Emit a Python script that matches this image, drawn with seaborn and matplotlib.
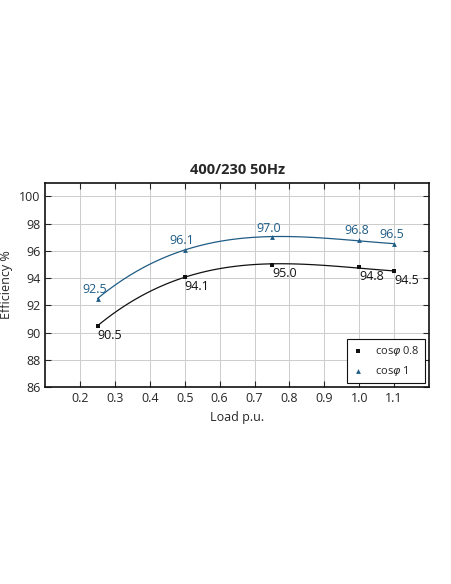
import numpy as np
import pandas as pd
import matplotlib
matplotlib.use("Agg")
import matplotlib.pyplot as plt
import seaborn as sns

# Data ........................................................................

load = [0.25, 0.5, 0.75, 1.0, 1.1]
eff_cos08 = [90.5, 94.1, 95.0, 94.8, 94.5]
eff_cos1 = [92.5, 96.1, 97.0, 96.8, 96.5]
x_ticks = [0.2, 0.3, 0.4, 0.5, 0.6, 0.7, 0.8, 0.9, 1.0, 1.1]
y_ticks = [86, 88, 90, 92, 94, 96, 98, 100]

black = "#111111"
blue = "#1f5c85"

# Plot ........................................................................

sns.set_style("ticks")
plt.rcParams["font.family"] = ["Open Sans", "DejaVu Sans"]

fig = plt.figure(figsize = (4.52, 5.84), dpi = 100)
ax = fig.add_axes([0.1, 0.337, 0.849, 0.35])

# Smooth curves through the points
sns.regplot(x = load, y = eff_cos08, order = 3, ci = None, scatter = False, truncate = True,
            line_kws = dict(color = black, lw = 0.9), ax = ax)
sns.regplot(x = load, y = eff_cos1, order = 3, ci = None, scatter = False, truncate = True,
            line_kws = dict(color = blue, lw = 0.9), ax = ax)

# Markers
sns.scatterplot(x = load, y = eff_cos08, marker = "s", color = black, s = 10, edgecolor = black,
                linewidth = 0, label = "cos$\\varphi$ 0.8", ax = ax, zorder = 5)
sns.scatterplot(x = load, y = eff_cos1, marker = "^", color = blue, s = 12, edgecolor = blue,
                linewidth = 0, label = "cos$\\varphi$ 1", ax = ax, zorder = 5)

# Value labels
for x, y in zip(load, eff_cos08):
    ax.annotate(f"{y:.1f}", (x, y), xytext = (0, -2), textcoords = "offset points",
                ha = "left", va = "top", fontsize = 9, color = black)
for x, y in zip(load, eff_cos1):
    ax.annotate(f"{y:.1f}", (x, y), xytext = (-2, 2), textcoords = "offset points",
                ha = "center", va = "bottom", fontsize = 9, color = blue)

ax.set_xlim(0.1, 1.2)
ax.set_ylim(86, 101)
ax.set_xticks(x_ticks)
ax.set_xticklabels([f"{t:.1f}" for t in x_ticks])
ax.set_yticks(y_ticks)
ax.grid(True, color = "#cccccc", lw = 0.7)
ax.tick_params(direction = "in", top = True, right = True, labelsize = 9, length = 4, width = 0.8)
for sp in ax.spines.values():
    sp.set_linewidth(1.2)
    sp.set_color(black)

ax.set_xlabel("Load p.u.", fontsize = 9)
ax.set_ylabel("Efficiency %", fontsize = 9)
ax.set_title("400/230 50Hz", fontsize = 10.5, fontweight = "bold")

leg = ax.legend(loc = "lower right", fontsize = 8, fancybox = False, framealpha = 1,
                edgecolor = black, handlelength = 1.2, handletextpad = 0.9, borderpad = 0.45,
                labelspacing = 0.5, borderaxespad = 0.4)
leg.get_frame().set_linewidth(0.8)

fig.savefig("out.png", dpi = 100, facecolor = "white")
